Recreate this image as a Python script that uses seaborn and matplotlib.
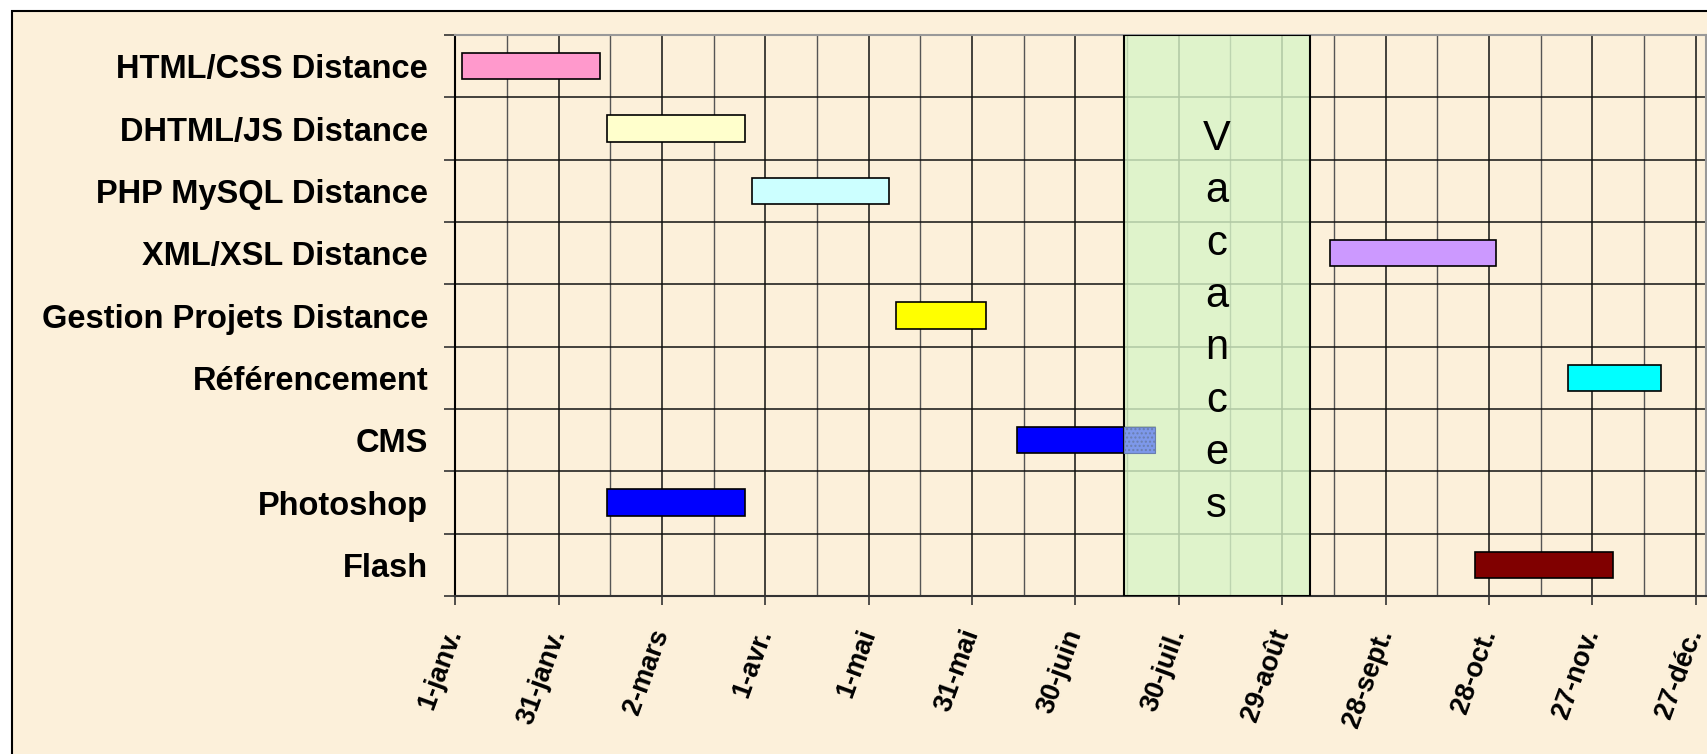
import numpy as np
import pandas as pd
import matplotlib.pyplot as plt
import matplotlib.patches as mpatches
import seaborn as sns

# planning data, in days counted from 1 January
tasks = ['HTML/CSS Distance', 'DHTML/JS Distance', 'PHP MySQL Distance', 'XML/XSL Distance',
         'Gestion Projets Distance', 'Référencement', 'CMS', 'Photoshop', 'Flash']
start_day = [2, 44, 86, 254, 128, 323, 163, 44, 296]
duration = [40, 40, 40, 48, 26, 27, 40, 40, 40]
bar_colors = ['#FF99CC', '#FFFFCC', '#CCFFFF', '#CC99FF', '#FFFF00',
              '#00FFFF', '#0000FF', '#0000FF', '#800000']

tick_days = [0, 30, 60, 90, 120, 150, 180, 210, 240, 270, 300, 330, 360]
tick_labels = ['1-janv.', '31-janv.', '2-mars', '1-avr.', '1-mai', '31-mai', '30-juin',
               '30-juil.', '29-août', '28-sept.', '28-oct.', '27-nov.', '27-déc.']

vac_start, vac_end = 194, 248
vac_label = 'Vacances'

paper = '#FCF0DA'

sns.set_theme(style='white')
plt.rcParams['font.family'] = ['Liberation Sans', 'DejaVu Sans']
plt.rcParams['text.color'] = 'black'

df = pd.DataFrame({'task': tasks, 'start': start_day, 'duration': duration})

fig = plt.figure(figsize=(17.07, 7.54), dpi=100, facecolor='white')
fig.patches.append(mpatches.Rectangle((11.5 / 1707, -0.1), 1.1, 1.1 - 11.5 / 754,
                                      transform=fig.transFigure, facecolor=paper,
                                      edgecolor='black', lw=1.5, zorder=-10))
ax = fig.add_axes([0.2667, 0.2095, 0.7327, 0.744])
ax.set_facecolor(paper)

sns.barplot(data=df, x='duration', y='task', hue='task', palette=bar_colors, legend=False,
            width=0.42, saturation=1, edgecolor='black', linewidth=1.2, orient='h',
            ax=ax, zorder=2)
# turn the bars into floating gantt bars
for p in ax.patches:
    i = int(round(p.get_y() + p.get_height() / 2))
    p.set_x(df['start'][i])

# holiday block
ax.axvspan(vac_start, vac_end, facecolor=(216 / 255, 245 / 255, 200 / 255, 0.8),
           edgecolor='black', lw=1.5, zorder=3)

# part of the CMS bar that falls inside the holidays
cms = df[df['task'] == 'CMS'].iloc[0]
ov0 = max(cms['start'], vac_start)
ov1 = cms['start'] + cms['duration']
ax.barh(tasks.index('CMS'), ov1 - ov0, left=ov0, height=0.42, color='#7D98EA',
        edgecolor='#6A7FB0', hatch='....', lw=0.8, zorder=4)

ax.text((vac_start + vac_end) / 2, 0.488, '\n'.join(vac_label), transform=ax.get_xaxis_transform(),
        ha='center', va='center', fontsize=30, linespacing=1.40, color='black', zorder=5)

ax.set_xlim(0, 363)
ax.set_xticks(tick_days)
ax.set_xticklabels(tick_labels, rotation=70, ha='right', va='center', rotation_mode='anchor',
                   fontweight='bold', fontsize=19.5)
ax.set_xticks(np.arange(15, 363, 30), minor=True)
ax.tick_params(axis='x', which='major', direction='out', length=6.5, width=1.2,
               color='#333333', pad=18, bottom=True, labelcolor='black')
ax.tick_params(axis='x', which='minor', length=0)

ax.set_ylim(8.5, -0.5)
ax.set_yticks(range(len(tasks)))
ax.set_yticklabels(tasks, fontweight='bold', fontsize=23.5)
ax.set_yticks(np.arange(-0.5, len(tasks), 1), minor=True)
ax.tick_params(axis='y', which='major', length=0, pad=19.5, labelcolor='black')
ax.tick_params(axis='y', which='minor', left=True, length=8, width=1.2, color='#333333',
               direction='out')

ax.set_axisbelow(True)
ax.grid(axis='x', which='major', color='#111111', lw=1.1)
ax.grid(axis='x', which='minor', color='#555555', lw=1.0)
ax.grid(axis='y', which='minor', color='#111111', lw=1.1)
ax.grid(axis='y', which='major', visible=False)

ax.set_xlabel('')
ax.set_ylabel('')
ax.spines['left'].set_color('black')
ax.spines['bottom'].set_color('#333333')
for s in ['top', 'right']:
    ax.spines[s].set_color('#999999')
for s in ax.spines.values():
    s.set_linewidth(1.5)

fig.savefig('out.png', dpi=100)
